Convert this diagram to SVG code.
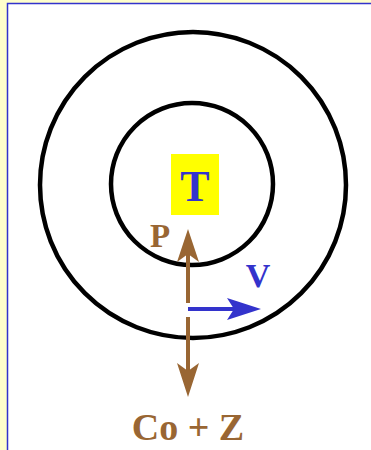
<svg xmlns="http://www.w3.org/2000/svg" width="371" height="450" viewBox="0 0 371 450">
<style>
.ring{fill:none;stroke:#000;stroke-width:4.5}
.brown{stroke:#996633;stroke-width:4;fill:none}
.blue{stroke:#3333CC;stroke-width:4;fill:none}
.lbl{font-family:"Liberation Serif","Times New Roman",serif;font-weight:bold}
</style>
<rect x="0" y="0" width="371" height="450" fill="#FFFFCC"/>
<rect x="7.5" y="3.5" width="370" height="450" fill="#FFFFFF" stroke="#3333CC" stroke-width="1.5"/>
<g id="outer-ring"><circle class="ring" cx="193" cy="185" r="153"/></g>
<g id="inner-ring"><circle class="ring" cx="192" cy="184" r="81"/></g>
<g id="T"><rect x="171" y="154" width="48" height="61" fill="#FFFF00"/><text class="lbl" x="195" y="201" font-size="44" fill="#3333CC" text-anchor="middle">T</text></g>
<g id="P"><text class="lbl" x="160" y="247" font-size="33" fill="#996633" text-anchor="middle">P</text></g>
<g id="V"><text class="lbl" x="258" y="287" font-size="34" fill="#3333CC" text-anchor="middle">V</text></g>
<g id="CoZ"><text class="lbl" x="188" y="440" font-size="38" fill="#996633" text-anchor="middle">Co + Z</text></g>
<g id="connectors">
<line class="brown" x1="188" y1="303" x2="188" y2="250"/>
<path d="M188 229 L199 262 L188 254 L177 262 Z" fill="#996633"/>
<line class="brown" x1="188" y1="317" x2="188" y2="376"/>
<path d="M188 397 L199 363 L188 371 L177 363 Z" fill="#996633"/>
<line class="blue" x1="188" y1="309" x2="240" y2="309"/>
<path d="M261 309 L227 298 L234 309 L227 320 Z" fill="#3333CC"/>
</g>
</svg>
